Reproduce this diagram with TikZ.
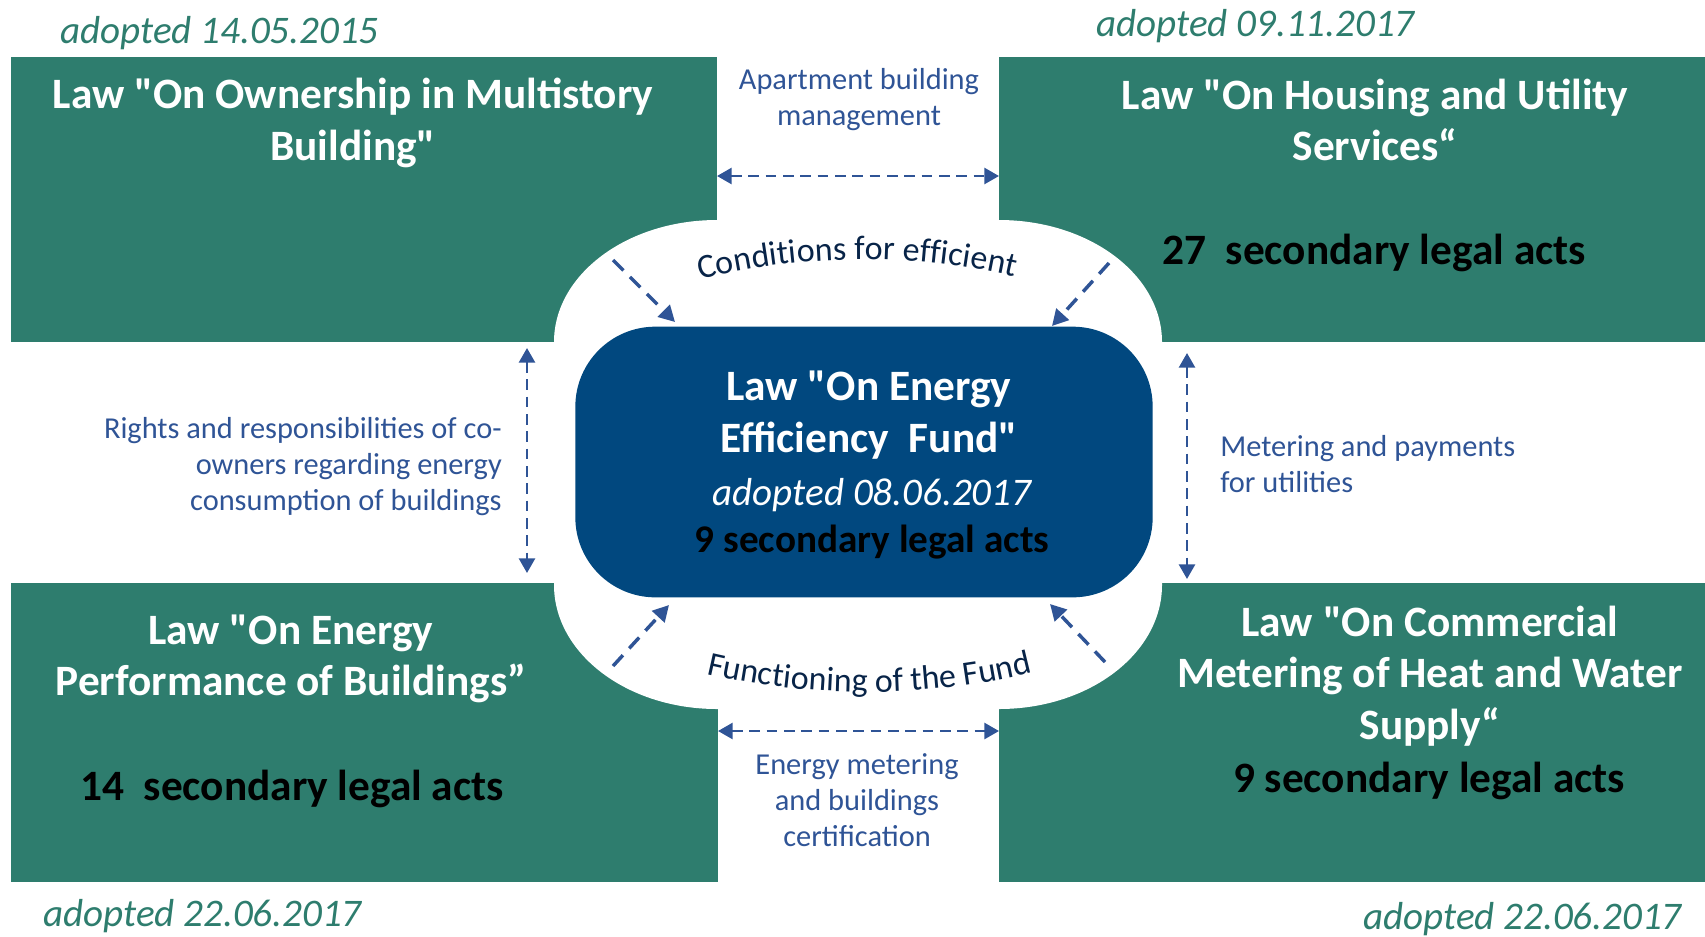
\documentclass[tikz,border=0pt]{standalone}
\usepackage{fontspec}
\setmainfont{Carlito}
\usetikzlibrary{arrows.meta,decorations.text}
\definecolor{lawgreen}{RGB}{46,125,110}
\definecolor{fundblue}{RGB}{1,72,127}
\definecolor{linkblue}{RGB}{47,84,150}
\definecolor{arcnavy}{RGB}{8,36,72}
\tikzset{
  lawtitle/.style={text=white,font=\fontsize{32.5}{38.5}\selectfont\bfseries,align=center,inner sep=0pt},
  actcount/.style={text=black,font=\fontsize{32.5}{38.5}\selectfont\bfseries,inner sep=0pt},
  adopted/.style={text=lawgreen,font=\fontsize{29.3}{34}\selectfont\itshape,inner sep=0pt},
  linklabel/.style={text=linkblue,font=\fontsize{22.8}{27}\selectfont,inner sep=0pt},
  fundbox/.style={fill=fundblue,rounded corners=60pt,minimum width=433pt,minimum height=203pt,inner sep=0pt},
  link/.style={draw=linkblue,line width=2pt,dash pattern=on 8pt off 5pt,
    arrows={Triangle[length=11pt,width=12pt]-Triangle[length=11pt,width=12pt]}},
  push/.style={draw=linkblue,line width=2.6pt,dash pattern=on 11pt off 7pt,
    arrows={-Triangle[length=12pt,width=12.5pt]}}
}
\newcommand{\arcfont}{\fontsize{25.5}{30}\selectfont}
\newcommand{\qt}{\textquotedbl}
\begin{document}
\begin{tikzpicture}[x=0.75pt,y=0.75pt,yscale=-1,xscale=1]
\useasboundingbox (0,0) rectangle (1705,936);

%Law boxes
\fill[lawgreen] (11,57) rectangle (717,342);
\fill[lawgreen] (999,57) rectangle (1705,342);
\fill[lawgreen] (11,583) rectangle (718,882);
\fill[lawgreen] (999,583) rectangle (1705,882);
%White field round the fund
\fill[white] (717,220) -- (999,220) arc[start angle=-90,end angle=0,x radius=163,y radius=122]
  -- (1162,585) arc[start angle=0,end angle=90,x radius=163,y radius=124]
  -- (717,709) arc[start angle=90,end angle=180,x radius=163,y radius=124]
  -- (554,342) arc[start angle=180,end angle=270,x radius=163,y radius=122] -- cycle;

%Fund
\node[fundbox] (fund) at (864,462) {};
\node[lawtitle] (fundtitle) at (869,415) {Law \qt On Energy\\Efficiency~~Fund\qt};
\node[adopted,text=white] (funddate) at (872,495) {adopted 08.06.2017};
\node[actcount,font=\fontsize{29.4}{34}\selectfont\bfseries] (fundacts) at (872,542) {9 secondary legal acts};

% Text Node
\node[lawtitle] (own) at (353,123) {Law \qt On Ownership in Multistory\\Building\qt};
\node[lawtitle] (housing) at (1375,120) {Law \qt On Housing and Utility\\Services“};
\node[actcount] (housingacts) at (1374,253) {27~~secondary legal acts};
\node[lawtitle] (performance) at (291,659) {Law \qt On Energy\\Performance of Buildings”};
\node[actcount] (performanceacts) at (292,789) {14~~secondary legal acts};
\node[lawtitle] (metering) at (1430,676) {Law \qt On Commercial\\Metering of Heat and Water\\Supply“};
\node[actcount] (meteringacts) at (1429,781) {9 secondary legal acts};

% Adoption dates
\node[adopted,anchor=west] (owndate) at (60,33) {adopted 14.05.2015};
\node[adopted,anchor=west] (housingdate) at (1096,26) {adopted 09.11.2017};
\node[adopted,anchor=west] (performancedate) at (43,916) {adopted 22.06.2017};
\node[adopted,anchor=west] (meteringdate) at (1363,919) {adopted 22.06.2017};

% Link labels
\node[linklabel,align=center] (aptlabel) at (859,100) {Apartment building\\management};
\node[linklabel,align=right,anchor=east] (rightslabel) at (502,467) {Rights and responsibilities of co-\\owners regarding energy\\consumption of buildings};
\node[linklabel,align=left,anchor=west] (utilitylabel) at (1220,464) {Metering and payments\\for utilities};
\node[linklabel,align=center] (certlabel) at (857,800) {Energy metering\\and buildings\\certification};

%Arc labels
\path[decorate,decoration={text along path,text align=center,text color=arcnavy,
  text={|\arcfont|Conditions for efficient}}] (695,281) .. controls (800,253) and (915,253) .. (1020,278);
\path[decorate,decoration={text along path,text align=center,text color=arcnavy,
  text={|\arcfont|Functioning of the Fund}}] (698,672) .. controls (805,699) and (935,699) .. (1041,670);

%Link ends
\coordinate (apt-l) at (717,176);
\coordinate (apt-r) at (999,176);
\coordinate (cert-l) at (718,731);
\coordinate (cert-r) at (999,731);
\coordinate (rights-t) at (527,348);
\coordinate (rights-b) at (527,573);
\coordinate (utility-t) at (1187,353);
\coordinate (utility-b) at (1187,579);
\coordinate (own-in) at (613,260);
\coordinate (own-tip) at (675,322);
\coordinate (housing-in) at (1109,263);
\coordinate (housing-tip) at (1052,326);
\coordinate (performance-out) at (613,666);
\coordinate (performance-tip) at (669,605);
\coordinate (metering-out) at (1105,662);
\coordinate (metering-tip) at (1050,604);

\draw[link] (apt-l) -- (apt-r);
\draw[link] (cert-l) -- (cert-r);
\draw[link] (rights-t) -- (rights-b);
\draw[link] (utility-t) -- (utility-b);
\draw[push] (own-in) -- (own-tip);
\draw[push] (housing-in) -- (housing-tip);
\draw[push] (performance-out) -- (performance-tip);
\draw[push] (metering-out) -- (metering-tip);

\end{tikzpicture}
\end{document}
